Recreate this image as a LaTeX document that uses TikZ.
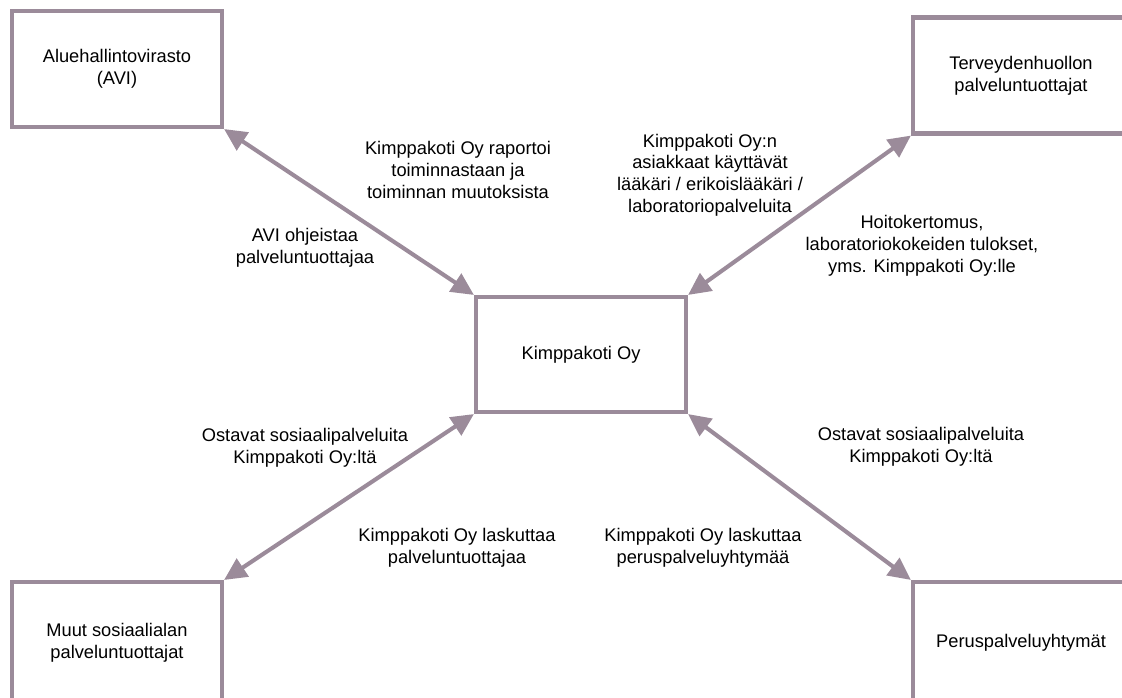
\documentclass[tikz,border=0pt]{standalone}
\usepackage{fontspec}
\setmainfont{Liberation Sans}
\usepackage{xcolor}
\usepackage{tikz}
\usetikzlibrary{arrows.meta, positioning}
\definecolor{boxline}{RGB}{155,139,154}

\begin{document}
\begin{tikzpicture}[
  x=0.025cm, y=-0.025cm,
  box/.style={rectangle, draw=boxline, line width=2.9pt, fill=white,
              minimum width=5.25cm, minimum height=2.9cm, align=center,
              font=\fontsize{13}{15.5}\selectfont},
  arr/.style={{Triangle[length=16pt, width=15pt]}-{Triangle[length=16pt, width=15pt]},
              draw=boxline, line width=2.9pt},
  label/.style={align=center, font=\fontsize{13}{15.5}\selectfont},
]
\useasboundingbox (0,0) rectangle (1122,697);
\clip (0,0) rectangle (1122,697);

\node[box] (avi) at (117,69) {Aluehallintovirasto\\(AVI)};
\node[box, minimum width=5.4cm] (terv) at (1021,75.5) {Terveydenhuollon\\palveluntuottajat};
\node[box, minimum height=2.875cm] (kimppa) at (581,354.5) {Kimppakoti Oy};
\node[box, minimum height=3.05cm] (muut) at (117,643) {Muut sosiaalialan\\palveluntuottajat};
\node[box, minimum width=5.4cm, minimum height=3.05cm] (perus) at (1021,643) {Peruspalveluyhtymät};

\draw[arr] (avi.south east) -- (kimppa.north west);
\draw[arr] (terv.south west) -- (kimppa.north east);
\draw[arr] (kimppa.south west) -- (muut.north east);
\draw[arr] (kimppa.south east) -- (perus.north west);

\node[label] (raportoi) at (458,170) {Kimppakoti Oy raportoi\\toiminnastaan ja\\toiminnan muutoksista};
\node[label] (ohjeistaa) at (305,248) {AVI ohjeistaa\\palveluntuottajaa};
\node[label] (asiakkaat) at (710,175) {Kimppakoti Oy:n\\asiakkaat käyttävät\\lääkäri / erikoislääkäri /\\laboratoriopalveluita};
\node[label] (hoito) at (922,246) {Hoitokertomus,\\laboratoriokokeiden tulokset,\\yms. Kimppakoti Oy:lle};
\node[label] (ostavatL) at (305,448) {Ostavat sosiaalipalveluita\\Kimppakoti Oy:ltä};
\node[label] (laskuttaaL) at (457,548) {Kimppakoti Oy laskuttaa\\palveluntuottajaa};
\node[label] (laskuttaaR) at (703,548) {Kimppakoti Oy laskuttaa\\peruspalveluyhtymää};
\node[label] (ostavatR) at (921,447) {Ostavat sosiaalipalveluita\\Kimppakoti Oy:ltä};
\end{tikzpicture}
\end{document}
